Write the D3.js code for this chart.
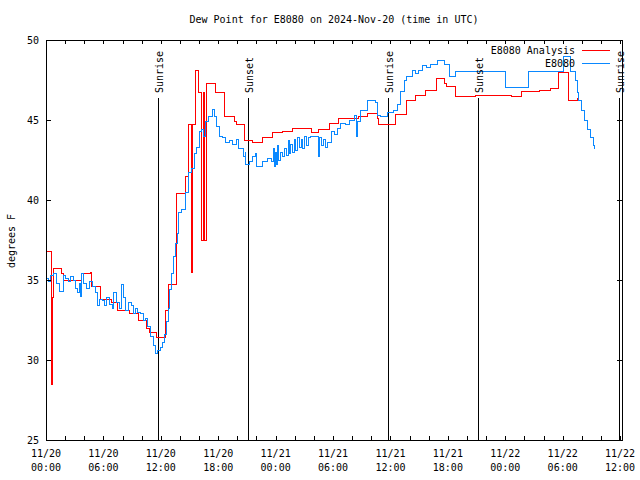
<!DOCTYPE html>
<html><head><meta charset="utf-8">
<script src="https://cdn.jsdelivr.net/npm/d3@7"></script>
<style>
html,body{margin:0;padding:0;background:#fff;}
text{font-family:"DejaVu Sans Mono","Liberation Mono",monospace;font-size:10px;fill:#000;}
</style></head>
<body><svg id="c" width="640" height="480"></svg>
<script>
const titleText = "Dew Point for E8080 on 2024-Nov-20 (time in UTC)";
const yLabel = "degrees F";
const yTicks = [25, 30, 35, 40, 45, 50];
const xLabelHours = [0, 6, 12, 18, 24, 30, 36, 42, 48, 54, 60];
const xLabelDates = ["11/20","11/20","11/20","11/20","11/21","11/21","11/21","11/21","11/22","11/22","11/22"];
const xLabelTimes = ["00:00","06:00","12:00","18:00","00:00","06:00","12:00","18:00","00:00","06:00","12:00"];
const sunEvents = [
  {h: 11.7, label: "Sunrise"}, {h: 21.15, label: "Sunset"},
  {h: 35.75, label: "Sunrise"}, {h: 45.15, label: "Sunset"},
  {h: 59.85, label: "Sunrise"}
];
const seriesNames = ["E8080 Analysis", "E8080"];
// hours since 2024-11-20 00:00 UTC, dew point (F)
const analysisSeries = [
[0,36.8],[0.6,28.5],[0.7,33.9],[0.8,35.7],[1.6,35.4],[1.8,35.0],[3.7,35.4],[4.6,35.5],[4.8,34.6],[5.7,33.8],
[6.8,33.6],[7.5,33.1],[8.7,32.9],[9.7,32.5],[10.5,32.0],[10.8,31.7],[11.6,31.4],[12.5,33.1],[12.8,34.7],[13.6,40.4],
[14.6,41.5],[14.9,44.7],[15.25,35.5],[15.35,44.7],[15.65,48.1],[15.9,46.7],[16.25,37.5],[16.45,46.7],[16.55,37.5],[16.75,47.3],
[17.7,46.7],[18.7,45.25],[19.7,44.9],[19.9,44.7],[20.7,43.75],[21.6,43.6],[22.6,43.9],[23.7,44.2],[24.7,44.3],[25.8,44.5],
[27.7,44.2],[28.5,44.4],[29.6,44.8],[30.6,45.1],[32.7,45.25],[33.6,45.4],[34.6,45.1],[34.8,44.73],[36.5,45.35],[37.7,46.25],
[38.6,46.54],[39.65,46.85],[40.8,47.6],[41.6,47.3],[41.9,47.1],[42.8,46.5],[44.9,46.54],[48.7,46.46],[49.7,46.77],[51.6,46.875],
[52.7,47.0],[53.6,48.0],[54.65,46.23],[55.5,46.35],[55.7,46.35]
];
const observedSeries = [
[0.0,35.1],[0.3,34.9],[0.5,35.3],[0.8,35.4],[1.1,34.8],[1.4,34.3],[1.8,35.3],[2.0,35.1],[2.3,34.9],[2.6,35.2],
[2.9,35.0],[3.1,34.5],[3.3,34.2],[3.5,34.8],[3.6,34.0],[3.7,35.4],[3.9,34.8],[4.2,34.5],[4.5,34.9],[4.9,34.6],
[5.2,34.2],[5.4,33.4],[5.6,33.8],[5.9,33.7],[6.1,33.4],[6.3,33.9],[6.6,33.5],[6.9,33.2],[7.1,34.2],[7.4,33.6],
[7.7,33.2],[7.9,34.7],[8.1,33.9],[8.3,33.1],[8.6,33.6],[8.9,33.4],[9.1,32.9],[9.4,33.2],[9.6,33.0],[9.9,32.9],
[10.2,32.5],[10.4,32.6],[10.6,32.1],[10.9,31.5],[11.2,30.9],[11.4,30.4],[11.7,30.6],[12.0,30.8],[12.2,31.1],[12.4,31.6],
[12.6,32.4],[12.8,33.2],[12.9,34.4],[13.1,35.4],[13.3,36.5],[13.5,37.3],[13.7,37.9],[13.9,39.2],[14.2,39.4],[14.6,40.5],
[14.9,41.7],[15.2,42.0],[15.5,42.9],[15.7,43.3],[16.0,44.3],[16.3,44.4],[16.5,44.0],[16.7,44.9],[17.0,45.2],[17.4,45.67],
[17.6,45.2],[17.8,44.6],[18.1,44.0],[18.4,43.9],[18.8,43.6],[19.2,43.7],[19.5,43.5],[19.9,43.8],[20.1,43.2],[20.6,42.7],
[20.8,43.0],[20.9,42.2],[21.3,42.4],[21.6,42.7],[21.9,42.9],[22.0,42.1],[22.6,42.4],[23.2,42.6],[23.6,42.4],[23.8,43.2],
[23.9,42.1],[24.0,43.0],[24.1,42.2],[24.2,43.4],[24.3,42.5],[24.5,43.0],[24.7,42.7],[24.9,43.2],[25.1,42.8],[25.3,43.7],
[25.4,42.9],[25.6,43.5],[25.8,43.0],[26.0,43.8],[26.1,43.1],[26.3,43.9],[26.5,43.3],[26.7,43.8],[26.8,43.2],[27.0,44.0],
[27.2,43.4],[27.4,43.9],[27.6,44.0],[28.45,42.7],[28.55,43.9],[28.8,43.4],[29.0,43.8],[29.2,43.3],[29.4,43.6],[29.8,44.3],
[30.2,44.1],[30.5,44.5],[30.8,44.8],[31.3,44.7],[31.7,45.0],[32.2,45.3],[32.5,44.0],[32.6,44.9],[32.9,45.6],[33.6,46.2],
[34.4,46.1],[34.6,45.3],[35.0,45.2],[35.7,45.5],[36.3,45.6],[36.7,46.0],[37.0,46.8],[37.5,47.5],[37.7,47.7],[38.3,48.1],
[38.6,47.9],[38.9,48.1],[39.3,48.4],[39.8,48.3],[40.2,48.5],[40.9,48.75],[41.7,48.5],[42.2,47.7],[42.8,48.06],[48.0,47.04],
[50.4,48.06],[54.1,49.0],[54.8,48.06],[55.3,47.5],[55.5,46.7],[55.7,46.2],[56.0,45.6],[56.3,45.0],[56.6,44.4],[56.9,43.9],
[57.2,43.4],[57.3,43.2]
];
const seriesColors = ["#ff0000", "#0a88ff"];

const svg = d3.select("#c");
const L = 46, R = 622, T = 40, B = 440;
const x = d3.scaleLinear().domain([0, 60.2]).range([L, R]);
const y = d3.scaleLinear().domain([25, 50]).range([B, T]);

// title
svg.append("text").attr("x", (L + R) / 2).attr("y", 23).attr("text-anchor", "middle").text(titleText);

// y label
svg.append("text").attr("transform", "translate(15,241) rotate(-90)").attr("text-anchor", "middle").text(yLabel);

const g = svg.append("g").attr("shape-rendering", "crispEdges");

// sunrise / sunset lines
sunEvents.forEach(ev => {
  const xp = Math.round(x(ev.h)) + 0.5;
  g.append("line").attr("x1", xp).attr("x2", xp).attr("y1", 98).attr("y2", B)
    .attr("stroke", "#000").attr("stroke-width", 1);
  svg.append("text").attr("transform", `translate(${xp + 4},93) rotate(-90)`)
    .attr("text-anchor", "start").text(ev.label);
});

// series
const line = d3.line().x(d => x(d[0])).y(d => y(d[1])).curve(d3.curveStepAfter);
[analysisSeries, observedSeries].forEach((s, i) => {
  g.append("path").datum(s).attr("d", line).attr("fill", "none")
    .attr("stroke", seriesColors[i]).attr("stroke-width", 1);
});

// axes ticks
const minor = d3.range(0, 61, 2);
const axB = g.append("g").attr("transform", `translate(0,${B})`)
  .call(d3.axisBottom(x).tickValues(minor).tickSize(-4).tickFormat(""));
const axT = g.append("g").attr("transform", `translate(0,${T})`)
  .call(d3.axisTop(x).tickValues(minor).tickSize(-4).tickFormat(""));
const axL = g.append("g").attr("transform", `translate(${L},0)`)
  .call(d3.axisLeft(y).tickValues(yTicks).tickSize(-5).tickPadding(7).tickFormat(d3.format("d")));
const axR = g.append("g").attr("transform", `translate(${R},0)`)
  .call(d3.axisRight(y).tickValues(yTicks).tickSize(-5).tickFormat(""));
[axB, axT, axL, axR].forEach(a => {
  a.select(".domain").remove();
  a.selectAll("line").attr("stroke", "#000");
});
axL.selectAll("text").attr("font-family", null).attr("font-size", null).attr("fill", "#000");

// x labels (two lines)
const xl = svg.append("g");
xLabelHours.forEach((h, i) => {
  const t = xl.append("text").attr("x", x(h)).attr("y", 457).attr("text-anchor", "middle");
  t.append("tspan").attr("x", x(h)).attr("y", 457).text(xLabelDates[i]);
  t.append("tspan").attr("x", x(h)).attr("y", 471).text(xLabelTimes[i]);
});

// frame
g.append("rect").attr("x", L + 0.5).attr("y", T + 0.5).attr("width", R - L).attr("height", B - T)
  .attr("fill", "none").attr("stroke", "#000");

// legend
seriesNames.forEach((n, i) => {
  const yy = 50 + i * 13;
  svg.append("text").attr("x", 575).attr("y", yy + 4).attr("text-anchor", "end").text(n);
  g.append("line").attr("x1", 582).attr("x2", 610).attr("y1", yy + 0.5).attr("y2", yy + 0.5)
    .attr("stroke", seriesColors[i]).attr("stroke-width", 1);
});
</script></body></html>
